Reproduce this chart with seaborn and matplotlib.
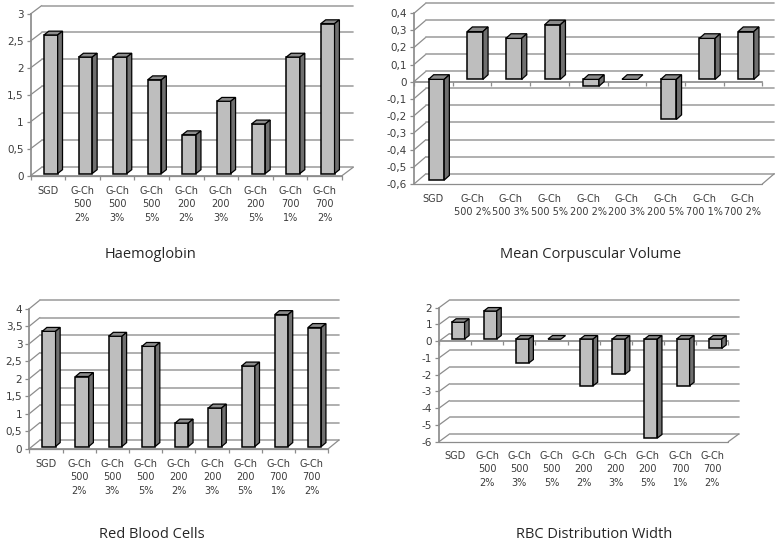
"""Four pseudo-3D bar panels of blood values per diet group."""

import matplotlib

matplotlib.use("Agg")
import matplotlib.pyplot as plt
import pandas as pd
import seaborn as sns
from matplotlib.lines import Line2D
from matplotlib.patches import Polygon
from matplotlib.transforms import Affine2D, IdentityTransform

W, H = 778, 542

labels_three = ["SGD", "G-Ch\n500\n2%", "G-Ch\n500\n3%", "G-Ch\n500\n5%", "G-Ch\n200\n2%",
                "G-Ch\n200\n3%", "G-Ch\n200\n5%", "G-Ch\n700\n1%", "G-Ch\n700\n2%"]
labels_two = ["SGD", "G-Ch\n500 2%", "G-Ch\n500 3%", "G-Ch\n500 5%", "G-Ch\n200 2%",
              "G-Ch\n200 3%", "G-Ch\n200 5%", "G-Ch\n700 1%", "G-Ch\n700 2%"]

haemoglobin = [2.57, 2.16, 2.16, 1.74, 0.72, 1.34, 0.92, 2.16, 2.78]
mcv = [-0.59, 0.28, 0.24, 0.32, -0.04, 0.0, -0.235, 0.24, 0.28]
red_cells = [3.29, 2.0, 3.15, 2.86, 0.67, 1.1, 2.3, 3.77, 3.4]
rdw = [1.0, 1.67, -1.43, 0.0, -2.79, -2.09, -5.91, -2.79, -0.56]

ticks_hb = [0, 0.5, 1, 1.5, 2, 2.5, 3]
ticks_mcv = [-0.6, -0.5, -0.4, -0.3, -0.2, -0.1, 0, 0.1, 0.2, 0.3, 0.4]
ticks_rbc = [0, 0.5, 1, 1.5, 2, 2.5, 3, 3.5, 4]
ticks_rdw = [-6, -5, -4, -3, -2, -1, 0, 1, 2]

GRID = "#a6a6a6"
AXIS = "#8c8c8c"
TEXT = "#3c3c3c"
FRONT = "#bebebe"
TOP = "#8c8c8c"
SIDE = "#6f6f6f"


def fmt(v):
    return f"{v:g}".replace(".", ",")


def add_line(ax, pts, color=GRID, lw=1.25):
    xs, ys = zip(*pts)
    ax.add_line(Line2D(xs, ys, color=color, lw=lw, transform=IdentityTransform(),
                       clip_on=False, zorder=1))


def draw_panel(fig, values, labels, ticks, box, depth, bar_w, pad, title, title_xy):
    left, top, right, bottom = box
    ax = fig.add_axes([left / W, 1 - bottom / H, (right - left) / W, (bottom - top) / H])
    ax.patch.set_alpha(0)
    df = pd.DataFrame({"group": labels, "value": values})
    cat_w = (right - left) / len(labels)
    sns.barplot(data=df, x="group", y="value", color=FRONT, saturation=1, width=bar_w / cat_w,
                edgecolor="black", linewidth=1.1, ax=ax, zorder=3)
    ax.set_xlim(-0.5, len(labels) - 0.5)
    ax.set_ylim(ticks[0], ticks[-1])
    ax.set_xlabel("")
    ax.set_ylabel("")

    to_px = ax.transData.transform
    dx, dy = depth
    x_a, x_b = -0.5, len(labels) - 0.5

    # back wall grid and left wall diagonals
    for v in ticks:
        p0 = to_px((x_a, v))
        p1 = (p0[0] + dx, p0[1] + dy)
        p2 = to_px((x_b, v)) + (dx, dy)
        add_line(ax, [p0, p1], color=AXIS, lw=0.9)
        add_line(ax, [p1, p2])
    # floor
    f0 = to_px((x_a, ticks[0]))
    f1 = to_px((x_b, ticks[0]))
    add_line(ax, [f0, f1], color=AXIS, lw=0.9)
    add_line(ax, [f1, (f1[0] + dx, f1[1] + dy)], color=AXIS, lw=0.9)

    # bars sit a little inside the floor, side and top faces come from the bar itself
    shift = Affine2D().translate(3, 2.2)
    bar_dx, bar_dy = 0.43 * dx, 0.45 * dy
    for patch in ax.patches:
        x, w = patch.get_x(), patch.get_width()
        y0 = min(patch.get_y(), patch.get_y() + patch.get_height())
        y1 = max(patch.get_y(), patch.get_y() + patch.get_height())
        patch.set_transform(ax.transData + shift)
        patch.set_clip_on(False)
        a = shift.transform(to_px((x, y1)))
        b = shift.transform(to_px((x + w, y1)))
        c = shift.transform(to_px((x + w, y0)))
        off = (bar_dx, bar_dy)
        ax.add_patch(Polygon([a, b, b + off, a + off], closed=True, fc=TOP, ec="black", lw=0.9,
                             transform=IdentityTransform(), clip_on=False, zorder=3))
        if y1 > y0:
            ax.add_patch(Polygon([b, c, c + off, b + off], closed=True, fc=SIDE, ec="black", lw=0.9,
                                 transform=IdentityTransform(), clip_on=False, zorder=3))

    sns.despine(ax=ax, top=True, right=True)
    ax.spines["left"].set_color(AXIS)
    ax.spines["bottom"].set_color(AXIS)
    ax.spines["bottom"].set_position(("data", 0))
    ax.set_yticks(ticks, [fmt(v) for v in ticks])
    ax.set_xticks(range(len(labels)), labels, linespacing=1.42)
    ax.set_xticks([i - 0.5 for i in range(len(labels) + 1)], minor=True)
    ax.tick_params(axis="x", which="major", bottom=False, length=0, pad=pad, labelsize=7, labelcolor=TEXT)
    ax.tick_params(axis="x", which="minor", bottom=True, length=3, color=AXIS, width=0.9)
    ax.tick_params(axis="y", left=True, length=3, color=AXIS, width=0.9, pad=2, labelsize=7.5,
                   labelcolor=TEXT)
    fig.text(title_xy[0] / W, 1 - title_xy[1] / H, title, ha="center", va="center",
             fontsize=10.5, color="#262626", family="Open Sans")


sns.set_theme(style="white")
plt.rcParams["font.family"] = ["DejaVu Sans"]
fig = plt.figure(figsize=(W / 100, H / 100), dpi=100)

draw_panel(fig, haemoglobin, labels_three, ticks_hb, (30.5, 14, 342, 175.7), (11.3, 8.5), 13.7, 7.5,
           "Haemoglobin", (151, 254))
draw_panel(fig, mcv, labels_two, ticks_mcv, (414, 13.3, 762.3, 184), (12, 10.3), 15.7, 81,
           "Mean Corpuscular Volume", (590.5, 254))
draw_panel(fig, red_cells, labels_three, ticks_rbc, (29.3, 308.7, 328.3, 448.7), (10.7, 8.7), 13.3, 7.5,
           "Red Blood Cells", (151.7, 534))
draw_panel(fig, rdw, labels_three, ticks_rdw, (439, 307.7, 728.3, 441.7), (10.5, 7.7), 13, 79,
           "RBC Distribution Width", (594, 535))

fig.savefig("out.png", dpi=100)
plt.close(fig)
